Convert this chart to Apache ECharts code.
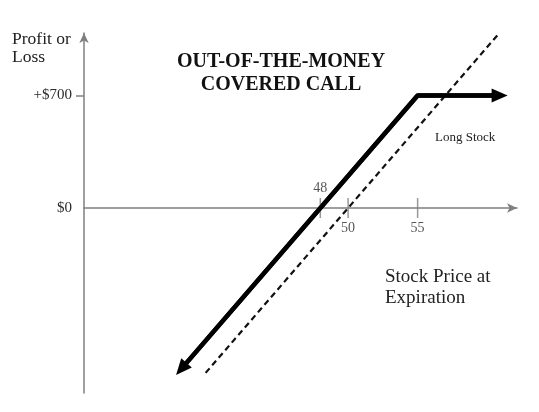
<!DOCTYPE html>
<html><head><meta charset="utf-8">
<script src="https://cdn.jsdelivr.net/npm/echarts@6/dist/echarts.min.js"></script>
<style>html,body{margin:0;padding:0;background:#fff}#c{width:539px;height:412px}</style>
</head><body><div id="c"></div>
<script>
// Covered call payoff (stock price, profit/loss)
const callPrices = [38, 55, 60.9];
const callPL = [-1000, 700, 700];
// Long stock payoff
const stockPrices = [39.75, 60.85];
const stockPL = [-1025, 1085];
// x-axis marks
const tickPrices = [48, 50, 55];
const tickLabels = ['48', '50', '55'];
const tickLabelSides = ['top', 'bottom', 'bottom'];
// y-axis marks
const yLabelValues = [0, 700];
const yLabelTexts = ['$0', '+$700'];
const yTickValues = [700];

const SERIF = '"Liberation Serif","Times New Roman",serif';
const AXIS = '#7f7f7f';
const chart = echarts.init(document.getElementById('c'), null, {renderer: 'canvas'});

const callPts = callPrices.map((p, i) => [p, callPL[i]]);
const stockPts = stockPrices.map((p, i) => [p, stockPL[i]]);
const kink = callPts[1];

chart.setOption({
  animation: false,
  backgroundColor: '#fff',
  grid: {left: 84, top: 33, width: 433, height: 360, containLabel: false, outerBoundsMode: 'none'},
  xAxis: {
    type: 'value', min: 31, max: 62.15,
    axisLine: {show: true, onZero: true, symbol: ['none', 'arrow'], symbolSize: [7, 10],
      lineStyle: {color: AXIS, width: 1.5}},
    axisTick: {show: false}, axisLabel: {show: false}, splitLine: {show: false}
  },
  yAxis: {
    type: 'value', min: -1150, max: 1088,
    axisLine: {show: true, onZero: false, symbol: ['none', 'arrow'], symbolSize: [7, 10],
      lineStyle: {color: AXIS, width: 1.5}},
    axisTick: {show: true, customValues: yTickValues, length: 8, lineStyle: {color: AXIS, width: 1.5}},
    axisLabel: {show: true, customValues: yLabelValues, margin: 12,
      formatter: v => yLabelTexts[yLabelValues.indexOf(v)] || '',
      fontFamily: SERIF, fontSize: 15, color: '#2b2b2b'},
    splitLine: {show: false}
  },
  series: [
    {
      type: 'line', data: stockPts, showSymbol: false, silent: true,
      lineStyle: {color: '#111', width: 2.2, type: [6, 4]}
    },
    {
      type: 'line', data: callPts, showSymbol: false, silent: true,
      lineStyle: {color: '#000', width: 4.5, join: 'miter'}
    },
    {
      type: 'lines', coordinateSystem: 'cartesian2d', silent: true,
      symbol: ['none', 'triangle'], symbolSize: [[14, 16], [14, 16]],
      lineStyle: {color: '#000', width: 4.5, opacity: 1, curveness: 0},
      data: [
        {coords: [kink, callPts[0]]},
        {coords: [kink, callPts[2]]}
      ]
    },
    {
      type: 'scatter', silent: true, symbol: 'rect', symbolSize: [1.5, 20],
      itemStyle: {color: AXIS},
      data: tickPrices.map((p, i) => ({
        value: [p, 0],
        label: {show: true, position: tickLabelSides[i], distance: 3, formatter: tickLabels[i],
          fontFamily: SERIF, fontSize: 14, color: '#2b2b2b'}
      }))
    }
  ],
  graphic: [
    {type: 'text', x: 281, y: 50.5, style: {text: 'OUT-OF-THE-MONEY\nCOVERED CALL',
      font: 'bold 20px ' + SERIF, fill: '#111', align: 'center', verticalAlign: 'top', lineHeight: 23}},
    {type: 'text', x: 12, y: 30, style: {text: 'Profit or\nLoss', font: '17.5px ' + SERIF,
      fill: '#222', align: 'left', verticalAlign: 'top', lineHeight: 18}},
    {type: 'text', x: 435, y: 138, style: {text: 'Long Stock', font: '13px ' + SERIF,
      fill: '#222', align: 'left', verticalAlign: 'middle'}},
    {type: 'text', x: 385, y: 267, style: {text: 'Stock Price at\nExpiration', font: '19px ' + SERIF,
      fill: '#222', align: 'left', verticalAlign: 'top', lineHeight: 21}}
  ]
});
</script></body></html>
